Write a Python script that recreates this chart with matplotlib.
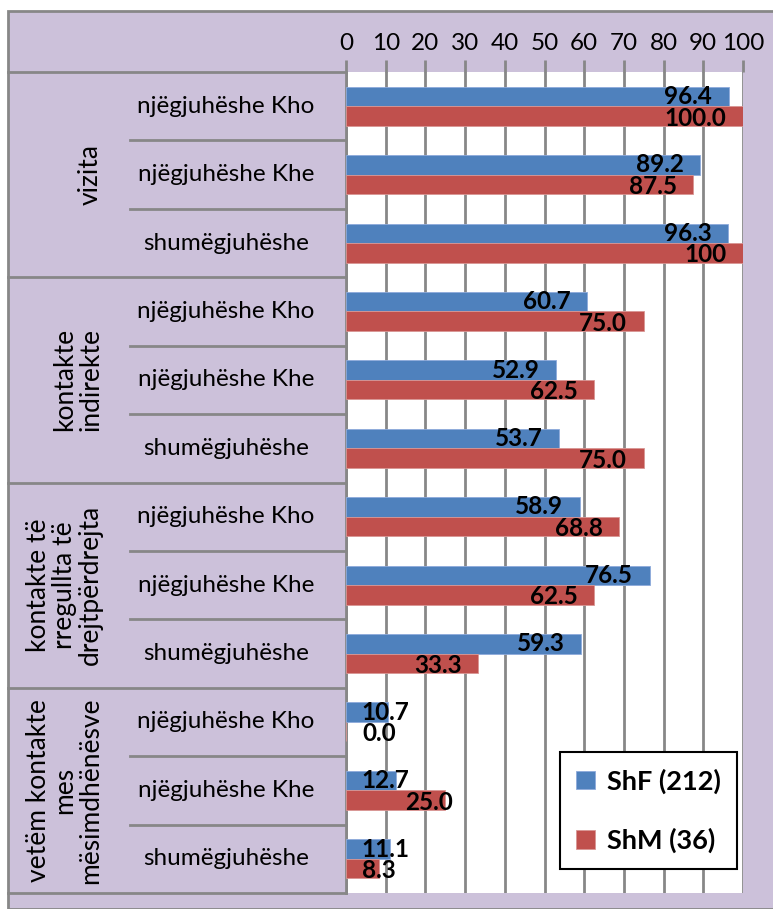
import matplotlib.pyplot as plt
from matplotlib.patches import Rectangle
from matplotlib.lines import Line2D
from matplotlib.font_manager import FontProperties

plt.rcParams['font.family'] = ['Lato', 'DejaVu Sans']

groups = ["vizita", "kontakte\nindirekte", "kontakte të\nrregullta të\ndrejtpërdrejta",
          "vetëm kontakte\nmes\nmësimdhënësve"]
schools = ["njëgjuhëshe Kho", "njëgjuhëshe Khe", "shumëgjuhëshe"]

shf = [96.4, 89.2, 96.3, 60.7, 52.9, 53.7, 58.9, 76.5, 59.3, 10.7, 12.7, 11.1]
shm = [100.0, 87.5, 100.0, 75.0, 62.5, 75.0, 68.8, 62.5, 33.3, 0.0, 25.0, 8.3]
series_names = ["ShF (212)", "ShM (36)"]

shf_labels = [f"{v:.1f}" for v in shf]
shm_labels = [f"{v:.1f}" for v in shm]
shm_labels[2] = "100"

BLUE = "#4F81BD"
RED = "#C0504D"
LAVENDER = "#CCC1DA"
GRID = "#878787"

W, H = 773, 909
fig = plt.figure(figsize=(W / 100, H / 100), dpi=100)
fig.patch.set_facecolor("white")

# lavender chart background with border on the left and top
fig.patches.append(Rectangle((8 / W, 0), 1.2, (909 - 11) / H, transform=fig.transFigure,
                             facecolor=LAVENDER, edgecolor=GRID, lw=2, zorder=-10))

left, top, right, bottom = 346, 72, 743, 893
ax = fig.add_axes([left / W, 1 - bottom / H, (right - left) / W, (bottom - top) / H])
ax.set_facecolor("white")

n = len(shf)
rows = list(range(n))
bh = 0.285
ax.barh([r - bh / 2 for r in rows], shf, height=bh, color=BLUE, edgecolor="#8EAADB",
        lw=0.6, zorder=3, label=series_names[0])
ax.barh([r + bh / 2 for r in rows], shm, height=bh, color=RED, edgecolor="#D99694",
        lw=0.6, zorder=3, label=series_names[1])

ax.set_xlim(0, 100)
ax.set_ylim(n - 0.5, -0.5)


def put_label(v, y, s):
    # inside the bar end; short bars get the label pushed to the right of the axis
    if v >= 30:
        ax.text(v - 4.2, y, s, ha="right", va="center", fontsize=17.5,
                fontweight="bold", zorder=5)
    else:
        ax.text(max(v - 10, 4), y, s, ha="left", va="center", fontsize=17.5,
                fontweight="bold", zorder=5)


for r in rows:
    put_label(shf[r], r - bh / 2, shf_labels[r])
    put_label(shm[r], r + bh / 2 + 0.03, shm_labels[r])

ax.xaxis.tick_top()
ax.set_xticks(range(0, 101, 10))
ax.tick_params(axis="x", length=9, width=2, color=GRID, labelsize=17.5, pad=4)
ax.set_yticks([])
ax.grid(axis="x", color=GRID, lw=2, zorder=1)
for s in ["top", "right", "bottom"]:
    ax.spines[s].set_visible(False)
ax.spines["left"].set_color(GRID)
ax.spines["left"].set_linewidth(2)


# category table on the left
def hline(y, xa, xb):
    fig.add_artist(Line2D([xa / W, xb / W], [1 - y / H, 1 - y / H], color=GRID, lw=2,
                          transform=fig.transFigure))


row_h = (bottom - top) / n
hline(top, 8, left)
for g in range(len(groups)):
    hline(top + (g + 1) * 3 * row_h, 8, left)
    for k in range(1, 3):
        hline(top + (g * 3 + k) * row_h, 130, left)
    gy = top + (g * 3 + 1.5) * row_h
    fig.text(103 / W, 1 - gy / H, groups[g], rotation=90, ha="right", va="center",
             multialignment="center", fontsize=19, linespacing=1.05)
    for k in range(3):
        sy = top + (g * 3 + k + 0.5) * row_h
        fig.text(226 / W, 1 - sy / H, schools[k], ha="center", va="center", fontsize=17.5)

leg_font = FontProperties(family=["Lato", "DejaVu Sans"], weight="bold", size=19.5)
leg = ax.legend(loc="lower right", bbox_to_anchor=(0.985, 0.029), borderaxespad=0,
                frameon=True, fancybox=False, edgecolor="black", framealpha=1,
                prop=leg_font, handlelength=0.7, handleheight=0.7,
                labelspacing=1.25, borderpad=0.6, handletextpad=0.45)
leg.get_frame().set_linewidth(1.5)
leg.set_zorder(6)

fig.savefig("out.png", dpi=100)
